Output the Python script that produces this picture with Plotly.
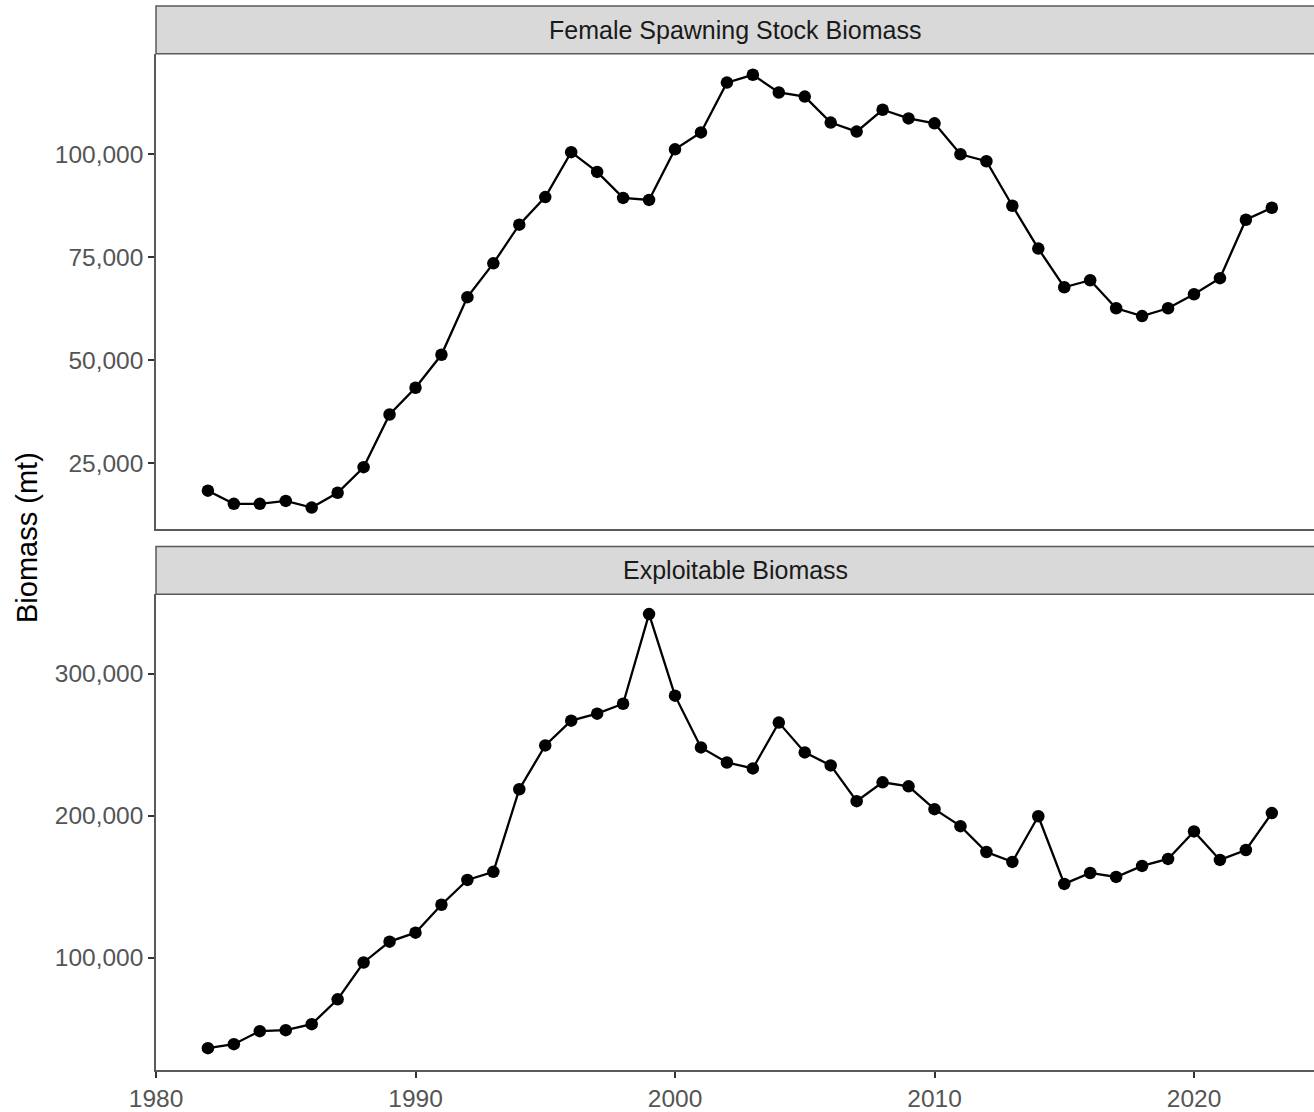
import plotly.graph_objects as go

years = list(range(1982, 2024))
ssb = [18300, 15100, 15100, 15800, 14200, 17800, 24000, 36800, 43300, 51300,
       65300, 73500, 82900, 89600, 100500, 95700, 89400, 88900, 101200, 105300,
       117400, 119300, 115000, 114000, 107700, 105500, 110800, 108700, 107500, 100000,
       98300, 87500, 77100, 67700, 69400, 62600, 60700, 62600, 66000, 69900,
       84100, 87000]
expl = [36100, 38900, 48100, 48800, 53000, 70500, 96500, 111200, 117500, 137200,
        154700, 160400, 218600, 249500, 267000, 271900, 278900, 342100, 284600, 248100,
        237500, 233300, 265600, 244600, 235400, 210200, 223500, 220700, 204600, 192600,
        174400, 167400, 199600, 151900, 159600, 156800, 164600, 169500, 188900, 168800,
        175800, 201800]
panel_titles = ["Female Spawning Stock Biomass", "Exploitable Biomass"]
x_ticks = [1980, 1990, 2000, 2010, 2020]
ssb_ticks = [25000, 50000, 75000, 100000]
expl_ticks = [100000, 200000, 300000]

W, H = 1314, 1112
L, R, T, B = 156, 0, 6, 37
ph = H - T - B
def py(pix):
    return (H - B - pix) / ph

top_dom = [py(531), py(54)]
top_strip = [py(54), py(6)]
bot_dom = [0, py(597)]
bot_strip = [py(597), py(549)]

FONT = "Liberation Sans, Arial, sans-serif"
fig = go.Figure()
mk = dict(color="black", size=12.5)
ln = dict(color="black", width=2.3)
fig.add_trace(go.Scatter(x=years, y=ssb, mode="lines+markers", marker=mk, line=ln,
                         xaxis="x", yaxis="y", showlegend=False))
fig.add_trace(go.Scatter(x=years, y=expl, mode="lines+markers", marker=mk, line=ln,
                         xaxis="x2", yaxis="y2", showlegend=False))

xr = [1980, 1980 + (W - L) / 25.95]
axcol = "#5a5a5a"
tickfont = dict(family=FONT, size=24.5, color="#555555")
common_x = dict(range=xr, showgrid=False, zeroline=False, showline=True, linecolor=axcol,
                linewidth=1.5, tickvals=x_ticks, tickfont=tickfont)
common_y = dict(showgrid=False, zeroline=False, showline=True, linecolor=axcol, linewidth=1.5,
                tickformat=",", ticks="outside", ticklen=6, tickwidth=2, tickcolor="#333333",
                tickfont=tickfont)
fig.update_layout(
    width=W, height=H, margin=dict(l=L, r=R, t=T, b=B),
    plot_bgcolor="white", paper_bgcolor="white",
    xaxis=dict(**common_x, anchor="y", showticklabels=False, ticks=""),
    xaxis2=dict(**common_x, anchor="y2", ticks="outside", ticklen=6, tickwidth=2,
                tickcolor="#333333"),
    yaxis=dict(domain=top_dom, range=[9100, 124400], tickvals=ssb_ticks, **common_y),
    yaxis2=dict(domain=bot_dom, range=[20700, 356100], tickvals=expl_ticks, **common_y),
    font=dict(family=FONT),
)

for title, dom in zip(panel_titles, [top_strip, bot_strip]):
    fig.add_shape(type="rect", xref="paper", yref="paper", x0=0, x1=1.01, y0=dom[0], y1=dom[1],
                  fillcolor="#d9d9d9", line=dict(color="#5a5a5a", width=1.5), layer="below")
    fig.add_annotation(text=title, xref="paper", yref="paper", x=0.5, y=(dom[0] + dom[1]) / 2,
                       showarrow=False, font=dict(family=FONT, size=25, color="#1a1a1a"),
                       xanchor="center", yanchor="middle")

fig.add_annotation(text="Biomass (mt)", xref="paper", yref="paper", x=(27 - L) / (W - L), y=0.5,
                   xanchor="center", yanchor="middle", textangle=-90, showarrow=False,
                   font=dict(family=FONT, size=29, color="black"))

fig.write_html("out.html", config={"displayModeBar": False},
               post_script="document.body.style.margin='0';")
